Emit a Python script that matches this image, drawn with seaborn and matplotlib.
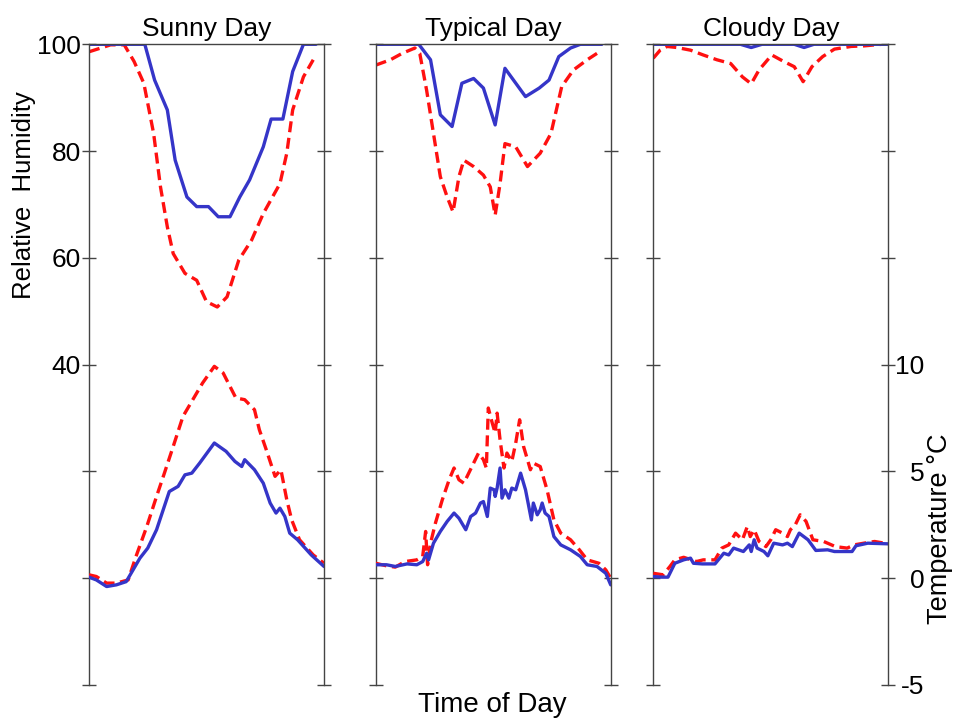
import numpy as np
import pandas as pd
import matplotlib
matplotlib.use("Agg")
import matplotlib.pyplot as plt
import seaborn as sns

# hours of day / relative humidity (%) / temperature (deg C)
sunny_rh_blue_t = [0, 5.7, 6.7, 8.0, 8.8, 10.0, 11.0, 12.2, 13.2, 14.4, 15.4, 16.4, 17.8, 18.6, 19.8, 20.8, 21.9, 23.2]
sunny_rh_blue = [100, 100, 93.3, 87.7, 78.3, 71.4, 69.6, 69.6, 67.7, 67.7, 71.4, 74.6, 80.8, 86, 86, 94.9, 100, 100]
sunny_rh_red_t = [0, 1.2, 2.2, 3.6, 4.6, 5.6, 6.6, 7.3, 8.0, 8.6, 9.8, 11.0, 12.0, 13.1, 14.1, 15.3, 16.6, 17.8,
                  19.5, 20.2, 20.8, 21.9, 22.9]
sunny_rh_red = [98.6, 99.3, 99.9, 99.9, 96.8, 92.7, 83.3, 73.3, 65.8, 60.8, 57.1, 55.8, 51.8, 50.8, 52.7, 59.6,
                63.3, 68.3, 73.9, 79.6, 87.7, 93.9, 97.1]
sunny_tc_blue_t = [0, 0.75, 1.8, 2.8, 3.8, 4.5, 5.2, 6.0, 6.9, 8.2, 9.1, 9.8, 10.5, 11.3, 12.8, 14.0, 14.9, 15.6,
                   15.9, 16.9, 17.8, 18.5, 19.1, 19.5, 20.0, 20.5, 21.3, 22.7, 24]
sunny_tc_blue = [0.05, -0.08, -0.39, -0.31, -0.16, 0.39, 0.94, 1.41, 2.27, 4.06, 4.30, 4.84, 4.92, 5.39, 6.33,
                 5.94, 5.47, 5.23, 5.55, 5.08, 4.45, 3.52, 3.05, 3.28, 2.89, 2.11, 1.80, 1.09, 0.55]
sunny_tc_red_t = [0, 0.75, 1.8, 2.8, 4.0, 4.8, 5.9, 6.9, 7.7, 8.6, 9.6, 10.6, 11.6, 12.8, 13.7, 14.4, 15.0, 15.9,
                  16.9, 17.4, 18.1, 19.0, 19.6, 20.2, 20.7, 21.5, 22.9, 24]
sunny_tc_red = [0.16, 0.08, -0.23, -0.23, -0.08, 1.02, 2.42, 3.83, 4.92, 6.17, 7.58, 8.36, 9.14, 9.92, 9.61,
                8.98, 8.44, 8.36, 7.89, 6.95, 6.02, 4.77, 5.08, 3.67, 2.73, 1.80, 1.09, 0.70]

typical_rh_blue_t = [0, 4.4, 5.6, 6.6, 7.8, 8.8, 10.0, 11.0, 12.2, 13.2, 15.3, 16.7, 17.7, 18.7, 19.9, 20.9, 23.1]
typical_rh_blue = [100, 100, 97.1, 86.8, 84.6, 92.7, 93.6, 91.8, 84.9, 95.5, 90.2, 91.8, 93.3, 97.7, 99.3, 100, 100]
typical_rh_red_t = [0, 1.5, 2.7, 4.0, 4.5, 5.2, 5.9, 6.6, 7.3, 7.9, 8.5, 9.0, 10.0, 11.0, 11.7, 12.2, 12.7, 13.2,
                    14.3, 15.5, 16.8, 17.9, 19.0, 20.2, 21.6, 22.6]
typical_rh_red = [96.1, 97.1, 98.3, 99.3, 98.3, 91.4, 83.3, 75.2, 71.4, 68.6, 75.2, 78.3, 77.1, 75.5, 73.3, 68,
                  73.9, 81.4, 80.8, 77.1, 79.6, 83.3, 92.1, 95.2, 97.1, 98.3]
typical_tc_blue_t = [0, 1.1, 2.0, 3.2, 4.2, 4.8, 5.2, 5.4, 5.9, 6.6, 7.3, 8.0, 8.5, 9.2, 9.7, 10.2, 10.7, 11.0,
                     11.4, 11.7, 12.1, 12.2, 12.4, 12.7, 12.9, 13.2, 13.6, 13.9, 14.3, 14.8, 15.3, 15.6, 15.9,
                     16.1, 16.5, 16.8, 17.0, 17.3, 17.7, 18.2, 18.9, 19.9, 20.9, 21.6, 22.6, 23.5, 24]
typical_tc_blue = [0.63, 0.63, 0.55, 0.67, 0.63, 0.78, 1.17, 0.86, 1.64, 2.19, 2.66, 3.05, 2.81, 2.27, 2.89,
                   3.05, 3.52, 3.59, 2.89, 4.22, 4.14, 3.83, 4.22, 5.16, 3.75, 4.14, 3.75, 4.22, 4.14, 4.92,
                   4.14, 3.44, 2.73, 3.52, 2.97, 3.20, 3.52, 3.05, 2.89, 1.95, 1.56, 1.33, 1.02, 0.63, 0.55,
                   0.23, -0.31]
typical_tc_red_t = [0, 1.1, 2.0, 3.0, 4.2, 4.8, 5.1, 5.3, 5.6, 6.1, 6.8, 7.5, 8.0, 8.5, 9.0, 9.5, 10.0, 10.5,
                    11.0, 11.3, 11.5, 11.9, 12.2, 12.4, 12.7, 13.1, 13.4, 13.9, 14.3, 14.7, 15.1, 15.5, 15.8,
                    16.1, 16.8, 17.5, 18.2, 18.9, 19.9, 20.8, 21.6, 22.8, 23.5, 24]
typical_tc_red = [0.70, 0.58, 0.52, 0.78, 0.86, 1.02, 2.19, 0.63, 1.64, 2.58, 3.67, 4.61, 5.16, 4.61, 4.45,
                  4.92, 5.39, 5.86, 5.55, 5.16, 7.97, 7.27, 6.80, 7.73, 6.48, 5.16, 5.86, 5.47, 6.33, 7.42,
                  6.17, 5.55, 5.08, 5.39, 5.23, 4.14, 2.73, 2.11, 1.80, 1.33, 0.86, 0.70, 0.39, 0.00]

cloudy_rh_blue_t = [0, 8.9, 10.0, 11.1, 14.4, 15.4, 16.4, 24]
cloudy_rh_blue = [100, 100, 99.4, 100, 100, 99.4, 100, 100]
cloudy_rh_red_t = [0, 0.7, 1.4, 2.4, 3.8, 5.1, 6.5, 7.9, 9.1, 10.0, 10.8, 12.1, 13.3, 14.4, 15.3, 16.2, 17.3,
                   18.5, 20.2, 21.5, 23.3]
cloudy_rh_red = [97.4, 98.9, 99.6, 99.4, 98.9, 98.0, 97.1, 96.4, 93.9, 92.6, 95.2, 98.0, 96.8, 95.8, 93.0,
                 95.8, 97.7, 99.1, 99.6, 99.7, 100]
cloudy_tc_blue_t = [0, 0.85, 1.5, 2.2, 3.1, 3.8, 4.1, 5.0, 6.3, 7.2, 7.7, 8.2, 9.2, 9.8, 10.0, 10.3, 10.6, 11.3,
                    11.7, 12.3, 13.2, 13.7, 14.2, 14.9, 15.8, 16.6, 17.8, 18.5, 20.3, 20.7, 21.9, 24]
cloudy_tc_blue = [0.08, 0.05, 0.05, 0.70, 0.86, 0.94, 0.70, 0.67, 0.67, 1.17, 1.09, 1.41, 1.25, 1.56, 1.25,
                  1.80, 1.41, 1.25, 1.05, 1.64, 1.56, 1.64, 1.48, 2.11, 1.80, 1.30, 1.33, 1.25, 1.25, 1.52,
                  1.64, 1.61]
cloudy_tc_red_t = [0, 1.0, 1.7, 2.2, 3.1, 3.9, 4.4, 5.1, 6.3, 7.0, 7.7, 8.4, 9.1, 9.6, 9.9, 10.3, 10.8, 11.5,
                   12.0, 12.5, 13.2, 13.7, 14.0, 14.5, 15.0, 15.6, 16.3, 17.4, 18.6, 19.8, 20.5, 21.5, 22.6, 24]
cloudy_tc_red = [0.23, 0.16, 0.55, 0.86, 0.98, 0.86, 0.78, 0.86, 0.86, 1.41, 1.56, 2.11, 1.80, 2.42, 1.95,
                 2.27, 1.72, 1.48, 1.80, 2.27, 2.11, 1.95, 2.27, 2.50, 2.97, 2.66, 1.80, 1.72, 1.48, 1.41,
                 1.56, 1.64, 1.72, 1.61]

titles = ["Sunny Day", "Typical Day", "Cloudy Day"]
rh_ticks = [-20, 0, 20, 40, 60, 80, 100]
rh_labels = ["", "", "", "40", "60", "80", "100"]
tc_ticks = [-5, 0, 5, 10, 15, 20, 25]
tc_labels = ["-5", "0", "5", "10", "", "", ""]

panels = [
    (sunny_rh_blue_t, sunny_rh_blue, sunny_rh_red_t, sunny_rh_red,
     sunny_tc_blue_t, sunny_tc_blue, sunny_tc_red_t, sunny_tc_red),
    (typical_rh_blue_t, typical_rh_blue, typical_rh_red_t, typical_rh_red,
     typical_tc_blue_t, typical_tc_blue, typical_tc_red_t, typical_tc_red),
    (cloudy_rh_blue_t, cloudy_rh_blue, cloudy_rh_red_t, cloudy_rh_red,
     cloudy_tc_blue_t, cloudy_tc_blue, cloudy_tc_red_t, cloudy_tc_red),
]

BLUE = "#3535c8"
RED = "#ff1010"
DASH = (0, (3.3, 1.7))
LW = 2.4
SPINE = "#444444"

sns.set_theme(style="white")
plt.rcParams["font.family"] = ["Liberation Sans", "DejaVu Sans"]

fig = plt.figure(figsize=(9.54, 7.19), dpi=100)
lefts = [89 / 954, 375.7 / 954, 653.3 / 954]
bottom = 1 - 685 / 719
height = (685 - 44.3) / 719
width = 235 / 954

for i, (title, data) in enumerate(zip(titles, panels)):
    hb_t, hb, hr_t, hr, tb_t, tb, tr_t, tr = data
    ax = fig.add_axes([lefts[i], bottom, width, height])
    tw = ax.twinx()

    sns.lineplot(x=hr_t, y=hr, ax=ax, color=RED, linestyle=DASH, linewidth=LW, estimator=None, sort=False)
    sns.lineplot(x=hb_t, y=hb, ax=ax, color=BLUE, linewidth=LW, estimator=None, sort=False)
    sns.lineplot(x=tr_t, y=tr, ax=tw, color=RED, linestyle=DASH, linewidth=LW, estimator=None, sort=False)
    sns.lineplot(x=tb_t, y=tb, ax=tw, color=BLUE, linewidth=LW, estimator=None, sort=False)

    ax.set_xlim(0, 24)
    ax.set_ylim(-20, 100)
    tw.set_ylim(-5, 25)
    ax.set_xticks([])
    tw.set_xticks([])
    ax.set_xlabel("")
    ax.set_ylabel("")
    tw.set_ylabel("")

    ax.tick_params(axis="y", left=True, right=False, direction="inout", length=10, width=1,
                   color=SPINE, labelsize=19, pad=1, labelcolor="black")
    tw.tick_params(axis="y", right=True, left=False, direction="inout", length=10, width=1,
                   color=SPINE, labelsize=19, pad=21, labelcolor="black")

    ax.set_yticks(rh_ticks)
    ax.set_yticklabels(rh_labels if i == 0 else [""] * len(rh_ticks))
    tw.set_yticks(tc_ticks)
    tw.set_yticklabels(tc_labels if i == 2 else [""] * len(tc_ticks))
    # right-hand labels line up on their right edge, as in the original
    for lab in tw.get_yticklabels():
        lab.set_horizontalalignment("right")

    for a in (ax, tw):
        for side in ("left", "right", "top", "bottom"):
            a.spines[side].set_visible(False)
    ax.spines["left"].set_visible(True)
    ax.spines["top"].set_visible(True)
    tw.spines["right"].set_visible(True)
    for sp in (ax.spines["left"], ax.spines["top"], tw.spines["right"]):
        sp.set_color(SPINE)
        sp.set_linewidth(1.0)

    ax.set_title(title, fontsize=19, pad=6, color="black")

fig.text(24 / 954, 1 - 195 / 719, "Relative  Humidity", rotation=90, ha="center", va="center",
         fontsize=18.5, color="black")
fig.text(492 / 954, 1 - 712 / 719, "Time of Day", ha="center", va="baseline", fontsize=20, color="black")
fig.text(940 / 954, 1 - 529 / 719, "Temperature °C", rotation=90, ha="center", va="center",
         fontsize=19.5, color="black")

fig.savefig("out.png", dpi=100)
